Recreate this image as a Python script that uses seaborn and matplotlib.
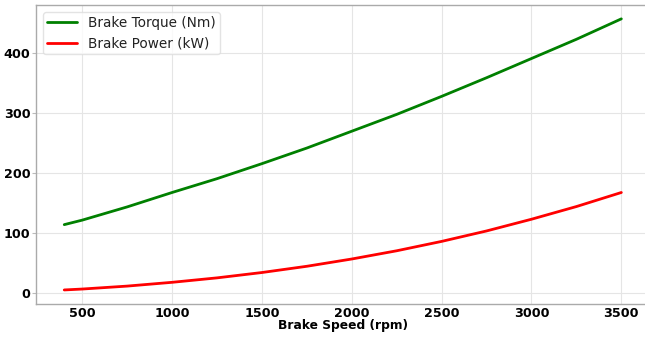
import matplotlib
matplotlib.use("Agg")
import matplotlib.pyplot as plt
import seaborn as sns
import pandas as pd

speed_rpm = [400, 500, 750, 1000, 1250, 1500, 1750, 2000, 2250, 2500, 2750, 3000, 3250, 3500]
torque_nm = [113.5, 121, 143, 167, 190, 215, 241, 269, 297, 327, 358, 390, 422, 456]
power_kw = [4.8, 6.3, 11.2, 17.5, 24.9, 33.8, 44.2, 56.3, 70, 85.6, 103, 122.5, 143.6, 167]

sns.set_theme(style="whitegrid")
plt.rcParams['font.family'] = ['DejaVu Sans']

df = pd.DataFrame({"speed": speed_rpm, "torque": torque_nm, "power": power_kw})

fig = plt.figure(figsize=(6.45, 3.4), dpi=100)
ax = fig.add_axes([36.4 / 645, 36.5 / 340, 612.8 / 645, 298.2 / 340])

sns.lineplot(data=df, x="speed", y="torque", color="green", lw=2.0, ax=ax, label="Brake Torque (Nm)")
sns.lineplot(data=df, x="speed", y="power", color="red", lw=2.0, ax=ax, label="Brake Power (kW)")

ax.set_xticks([500, 1000, 1500, 2000, 2500, 3000, 3500])
ax.set_yticks([0, 100, 200, 300, 400])
ax.set_xlabel("Brake Speed (rpm)", fontsize=8.8, fontweight="bold", labelpad=-0.6, color="black")
ax.set_ylabel("")
for lab in ax.get_xticklabels() + ax.get_yticklabels():
    lab.set_fontweight("bold")
    lab.set_fontsize(9.2)
    lab.set_color("black")
ax.tick_params(axis="y", which="major", length=3, width=0.8, color="#bbbbbb", pad=1.2, left=True)
ax.tick_params(axis="x", which="major", length=0, pad=2.6, bottom=False)
ax.grid(True, color="#e5e5e5", lw=0.8)
for s in ax.spines.values():
    s.set_color("#aaaaaa")
    s.set_linewidth(1.0)

leg = ax.legend(loc="upper left", fontsize=9.8, frameon=True, borderpad=0.3, handlelength=2.2, labelspacing=0.45)
leg.get_frame().set_edgecolor("#dddddd")
for t in leg.get_texts():
    t.set_color("#222222")
for line in leg.get_lines():
    line.set_linewidth(2.0)

fig.savefig("out.png", dpi=100)
